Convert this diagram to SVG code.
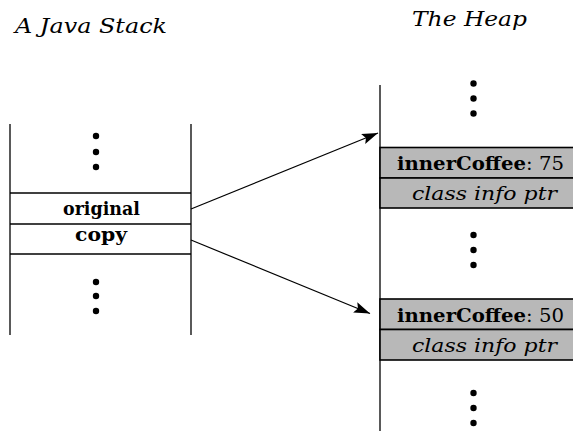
<svg xmlns="http://www.w3.org/2000/svg" width="573" height="431" viewBox="0 0 573 431">
<style>
.title{font-family:"DejaVu Serif","Liberation Serif",serif;font-style:italic;font-size:21px;fill:#000}
.lbl{font-family:"DejaVu Serif","Liberation Serif",serif;font-size:19px;fill:#000}
.b{font-weight:bold}
.it{font-style:italic}
.line{stroke:#000;stroke-width:1.3;fill:none}
.box{fill:#b8b8b8;stroke:#000;stroke-width:1.6}
.conn{stroke:#000;stroke-width:1.2;fill:none}
.dot{fill:#000}
</style>
<defs>
<marker id="ah" markerWidth="18" markerHeight="12" refX="16" refY="5.5" orient="auto" markerUnits="userSpaceOnUse">
<path d="M0,0 L16,5.5 L0,11 L3,5.5 Z" fill="#000"/>
</marker>
</defs>
<rect width="573" height="431" fill="#fff"/>
<text class="title" x="15" y="33" textLength="152" lengthAdjust="spacingAndGlyphs">A Java Stack</text>
<text class="title" x="412" y="26" textLength="115" lengthAdjust="spacingAndGlyphs">The Heap</text>

<g id="stack">
<line class="line" x1="10" y1="124" x2="10" y2="335"/>
<line class="line" x1="191" y1="124" x2="191" y2="335"/>
<line class="line" x1="10" y1="193" x2="191" y2="193"/>
<line class="line" x1="10" y1="224" x2="191" y2="224"/>
<line class="line" x1="10" y1="254" x2="191" y2="254"/>
<circle class="dot" cx="96" cy="136" r="3.2"/>
<circle class="dot" cx="96" cy="152" r="3.2"/>
<circle class="dot" cx="96" cy="167" r="3.2"/>
<circle class="dot" cx="96" cy="282" r="3.2"/>
<circle class="dot" cx="96" cy="296" r="3.2"/>
<circle class="dot" cx="96" cy="311" r="3.2"/>
</g>
<g id="original">
<text class="lbl b" x="63" y="215" textLength="77" lengthAdjust="spacingAndGlyphs">original</text>
</g>
<g id="copy">
<text class="lbl b" x="75" y="241" textLength="52" lengthAdjust="spacingAndGlyphs">copy</text>
</g>

<g id="heap">
<line class="line" x1="380" y1="85" x2="380" y2="431"/>
<circle class="dot" cx="473.5" cy="83.5" r="3.2"/>
<circle class="dot" cx="473.5" cy="98.5" r="3.2"/>
<circle class="dot" cx="473.5" cy="113.5" r="3.2"/>
<circle class="dot" cx="473.5" cy="235" r="3.2"/>
<circle class="dot" cx="473.5" cy="250" r="3.2"/>
<circle class="dot" cx="473.5" cy="265" r="3.2"/>
<circle class="dot" cx="473.5" cy="393" r="3.2"/>
<circle class="dot" cx="473.5" cy="408" r="3.2"/>
<circle class="dot" cx="473.5" cy="423" r="3.2"/>
</g>
<g id="obj75">
<rect class="box" x="380" y="147.5" width="200" height="30.5"/>
<rect class="box" x="380" y="178" width="200" height="30"/>
<text class="lbl" x="397" y="170" textLength="167" lengthAdjust="spacingAndGlyphs"><tspan class="b">innerCoffee</tspan>: 75</text>
<text class="lbl it" x="412" y="200" textLength="145" lengthAdjust="spacingAndGlyphs">class info ptr</text>
</g>
<g id="obj50">
<rect class="box" x="380" y="299" width="200" height="30.5"/>
<rect class="box" x="380" y="329.5" width="200" height="30.5"/>
<text class="lbl" x="397" y="321.5" textLength="167" lengthAdjust="spacingAndGlyphs"><tspan class="b">innerCoffee</tspan>: 50</text>
<text class="lbl it" x="412" y="352" textLength="145" lengthAdjust="spacingAndGlyphs">class info ptr</text>
</g>

<g id="connectors">
<line class="conn" x1="191" y1="209" x2="378" y2="133" marker-end="url(#ah)"/>
<line class="conn" x1="191" y1="240" x2="370" y2="313.5" marker-end="url(#ah)"/>
</g>
</svg>
